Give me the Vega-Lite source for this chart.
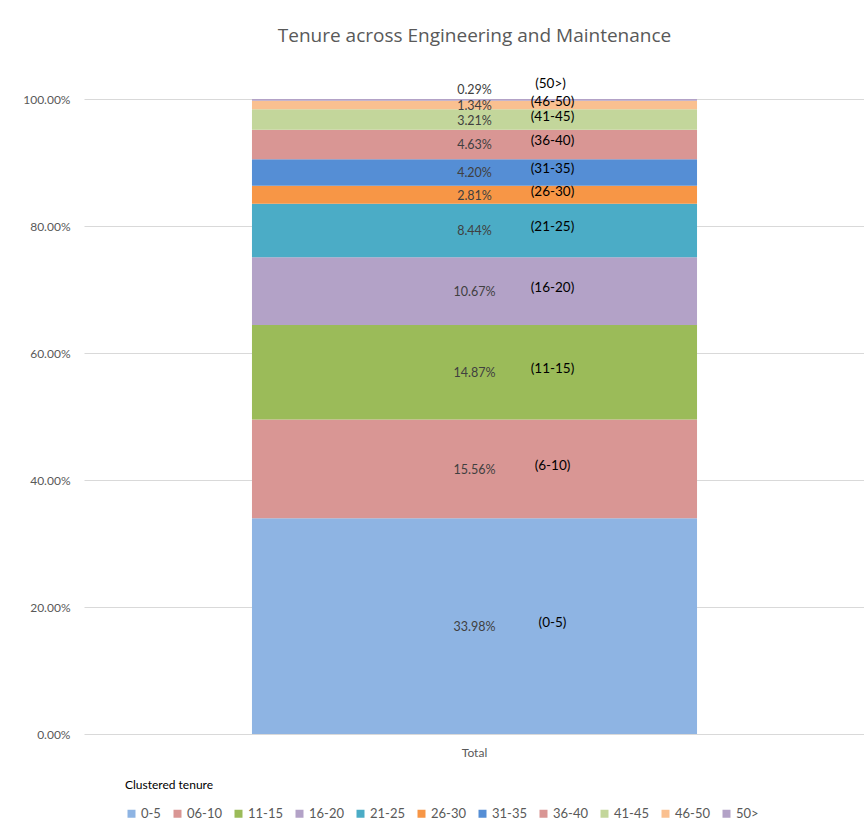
{
  "$schema": "https://vega.github.io/schema/vega-lite/v6.json",
  "width": 781,
  "height": 635,
  "autosize": "none",
  "padding": {"left": 84, "top": 99, "right": 0, "bottom": 95},
  "background": "white",
  "title": {
    "text": "Tenure across Engineering and Maintenance",
    "font": "Open Sans",
    "fontSize": 19,
    "fontWeight": "normal",
    "color": "#595959",
    "anchor": "middle",
    "offset": 31
  },
  "data": {
    "values": [
      {"cat": "Total", "tenure": "0-5", "range": "(0-5)", "ord": 1, "pct": 33.98},
      {"cat": "Total", "tenure": "06-10", "range": "(6-10)", "ord": 2, "pct": 15.56},
      {"cat": "Total", "tenure": "11-15", "range": "(11-15)", "ord": 3, "pct": 14.87},
      {"cat": "Total", "tenure": "16-20", "range": "(16-20)", "ord": 4, "pct": 10.67},
      {"cat": "Total", "tenure": "21-25", "range": "(21-25)", "ord": 5, "pct": 8.44},
      {"cat": "Total", "tenure": "26-30", "range": "(26-30)", "ord": 6, "pct": 2.81},
      {"cat": "Total", "tenure": "31-35", "range": "(31-35)", "ord": 7, "pct": 4.20},
      {"cat": "Total", "tenure": "36-40", "range": "(36-40)", "ord": 8, "pct": 4.63},
      {"cat": "Total", "tenure": "41-45", "range": "(41-45)", "ord": 9, "pct": 3.21},
      {"cat": "Total", "tenure": "46-50", "range": "(46-50)", "ord": 10, "pct": 1.34},
      {"cat": "Total", "tenure": "50>", "range": "(50>)", "ord": 11, "pct": 0.29}
    ]
  },
  "transform": [
    {"stack": "pct", "groupby": ["cat"], "sort": [{"field": "ord", "order": "ascending"}], "as": ["p0", "p1"]},
    {"calculate": "(datum.p0 + datum.p1) / 2", "as": "mid"},
    {"calculate": "format(datum.pct / 100, '.2%')", "as": "pctLabel"}
  ],
  "encoding": {
    "x": {
      "field": "cat",
      "type": "nominal",
      "scale": {"padding": 0.274},
      "axis": {
        "title": null,
        "labelAngle": 0,
        "domain": false,
        "ticks": false,
        "labelPadding": 13,
        "labelFont": "Lato",
        "labelFontSize": 12,
        "labelColor": "#595959"
      }
    }
  },
  "layer": [
    {
      "mark": {"type": "bar"},
      "encoding": {
        "y": {
          "field": "p1",
          "type": "quantitative",
          "scale": {"domain": [0, 100], "nice": false},
          "axis": {
            "title": null,
            "values": [0, 20, 40, 60, 80, 100],
            "labelExpr": "format(datum.value / 100, '.2%')",
            "domain": false,
            "ticks": false,
            "labelPadding": 14,
            "labelFont": "Lato",
            "labelFontSize": 12,
            "labelColor": "#595959",
            "gridColor": "#d9d9d9",
            "gridWidth": 1
          }
        },
        "y2": {"field": "p0"},
        "color": {
          "field": "tenure",
          "type": "nominal",
          "scale": {
            "domain": ["0-5", "06-10", "11-15", "16-20", "21-25", "26-30", "31-35", "36-40", "41-45", "46-50", "50>"],
            "range": ["#8eb4e3", "#d99694", "#9bbb59", "#b3a2c7", "#4bacc6", "#f79646", "#558ed5", "#d99694", "#c3d69b", "#fac090", "#b3a2c7"]
          },
          "legend": {
            "orient": "none",
            "legendX": 41,
            "legendY": 681,
            "direction": "horizontal",
            "columns": 11,
            "title": "Clustered tenure",
            "titleFont": "Lato",
            "titleFontSize": 12,
            "titleFontWeight": "normal",
            "titleColor": "#000000",
            "titlePadding": 15,
            "symbolType": "square",
            "symbolSize": 64,
            "symbolStrokeWidth": 0,
            "labelFont": "Lato",
            "labelFontSize": 13,
            "labelColor": "#595959",
            "labelOffset": 3,
            "columnPadding": 10
          }
        },
        "order": {"field": "ord", "type": "quantitative"}
      }
    },
    {
      "transform": [{"filter": "datum.pct >= 1"}],
      "mark": {"type": "text", "font": "Lato", "fontSize": 12.5, "color": "#404040", "dy": 1},
      "encoding": {
        "y": {"field": "mid", "type": "quantitative"},
        "text": {"field": "pctLabel"}
      }
    },
    {
      "transform": [{"filter": "datum.pct < 1"}],
      "mark": {"type": "text", "font": "Lato", "fontSize": 12.5, "color": "#404040", "dy": -10},
      "encoding": {
        "y": {"field": "mid", "type": "quantitative"},
        "text": {"field": "pctLabel"}
      }
    },
    {
      "transform": [{"filter": "datum.pct >= 1"}],
      "mark": {"type": "text", "font": "Lato", "fontSize": 13.5, "color": "#000000", "dx": 78, "dy": -3},
      "encoding": {
        "y": {"field": "mid", "type": "quantitative"},
        "text": {"field": "range"}
      }
    },
    {
      "transform": [{"filter": "datum.pct < 1"}],
      "mark": {"type": "text", "font": "Lato", "fontSize": 13.5, "color": "#000000", "dx": 76, "dy": -16},
      "encoding": {
        "y": {"field": "mid", "type": "quantitative"},
        "text": {"field": "range"}
      }
    }
  ],
  "config": {
    "view": {"stroke": null}
  }
}
